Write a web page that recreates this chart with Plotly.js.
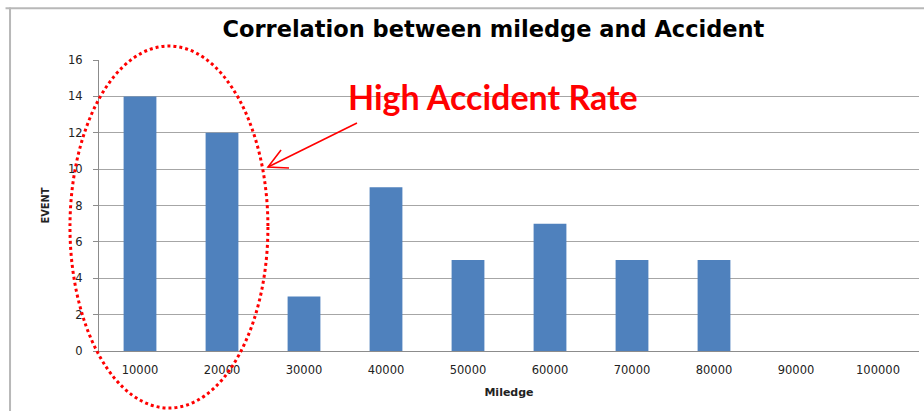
<!DOCTYPE html>
<html>
<head>
<meta charset="utf-8">
<script src="https://cdn.plot.ly/plotly-3.0.1.min.js"></script>
<style>html,body{margin:0;padding:0;background:#fff;}#chart{width:924px;height:411px;}</style>
</head>
<body>
<div id="chart"></div>
<script>
const categories = ["10000","20000","30000","40000","50000","60000","70000","80000","90000","100000"];
const events = [14, 12, 3, 9, 5, 7, 5, 5, 0, 0];
const yTicks = [0, 2, 4, 6, 8, 10, 12, 14, 16];
const chartTitle = "Correlation between miledge and Accident";
const xTitle = "Miledge";
const yTitle = "EVENT";
const calloutText = "High Accident Rate";

const trace = {
  type: "bar",
  x: categories,
  y: events,
  marker: {color: "#4f81bd"},
  hoverinfo: "x+y"
};

const layout = {
  width: 924, height: 411,
  margin: {l: 99, r: 5, t: 60, b: 60},
  paper_bgcolor: "#ffffff",
  plot_bgcolor: "#ffffff",
  bargap: 0.6,
  showlegend: false,
  title: {
    text: "<b>" + chartTitle + "</b>",
    font: {family: "DejaVu Sans, sans-serif", size: 22.5, color: "#000"},
    x: 0.534, xanchor: "center", y: 0.93, yanchor: "middle"
  },
  xaxis: {
    type: "category",
    showgrid: false,
    showline: true, linecolor: "#8c8c8c", linewidth: 1,
    ticks: "", ticklabelstandoff: 8,
    tickfont: {family: "DejaVu Sans, sans-serif", size: 11.5, color: "#222"},
    title: {text: "<b>" + xTitle + "</b>", font: {family: "DejaVu Sans, sans-serif", size: 11, color: "#222"}, standoff: 12},
    fixedrange: true
  },
  yaxis: {
    range: [0, 16],
    tickvals: yTicks,
    showgrid: true, gridcolor: "#a6a6a6", gridwidth: 1,
    showline: true, linecolor: "#8c8c8c", linewidth: 1,
    ticks: "outside", ticklen: 5, tickcolor: "#8c8c8c",
    ticklabelstandoff: 8,
    tickfont: {family: "DejaVu Sans, sans-serif", size: 11.5, color: "#222"},
    title: {text: "<b>" + yTitle + "</b>", font: {family: "DejaVu Sans Condensed, DejaVu Sans, sans-serif", size: 11, color: "#222"}, standoff: 16},
    zeroline: false,
    fixedrange: true
  },
  shapes: [
    {type: "line", xref: "paper", yref: "paper", x0: -0.1085, x1: -0.1085, y0: 1.18, y1: -0.21, line: {color: "#b8b8b8", width: 2}},
    {type: "line", xref: "paper", yref: "paper", x0: -0.114, x1: 1.01, y0: 1.178, y1: 1.178, line: {color: "#b8b8b8", width: 2}},
    {type: "circle", xref: "paper", yref: "paper", x0: -0.0354, x1: 0.206, y0: -0.196, y1: 1.048, line: {color: "#ff0000", width: 3, dash: "dot"}},
    {type: "path", xref: "paper", yref: "paper", path: "M 0.3146 0.7835 L 0.2061 0.6323", line: {color: "#ff0000", width: 1.6}},
    {type: "path", xref: "paper", yref: "paper", path: "M 0.2220 0.6907 L 0.2061 0.6323 L 0.2317 0.6289", line: {color: "#ff0000", width: 1.6}}
  ],
  annotations: [
    {xref: "paper", yref: "paper", x: 0.481, y: 0.875, xanchor: "center", yanchor: "middle",
     text: "<b>" + calloutText + "</b>", showarrow: false,
     font: {family: "Lato, sans-serif", size: 34, color: "#ff0000"}}
  ]
};

Plotly.newPlot("chart", [trace], layout, {displayModeBar: false, staticPlot: true});
</script>
</body>
</html>
